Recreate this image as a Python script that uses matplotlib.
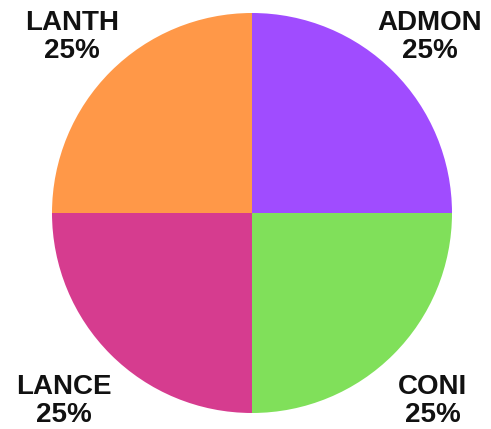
import numpy as np
import matplotlib
matplotlib.use("Agg")
import matplotlib.pyplot as plt

categories = ["ADMON", "CONI", "LANCE", "LANTH"]
values = [25, 25, 25, 25]
colors = ["#A04CFF", "#80E05A", "#D63C8F", "#FF9848"]

W, H = 491, 429
# label anchor positions (pixels from top-left)
label_pos = [(430, 37), (433, 401), (64, 401), (72, 37)]

fig = plt.figure(figsize=(W / 100, H / 100), dpi=100)
ax = fig.add_axes([0, 0, 1, 1])
cx, cy, R = 252, H - 213, 200
wedges, _ = ax.pie(values, colors=colors, startangle=90, counterclock=False,
                   center=(cx, cy), radius=R, wedgeprops=dict(linewidth=0))
ax.set_xlim(0, W)
ax.set_ylim(0, H)
ax.set_aspect("equal")
ax.axis("off")

total = sum(values)
for (px, py), name, v in zip(label_pos, categories, values):
    ax.text(px, H - py, f"{name}\n{v / total * 100:.0f}%", ha="center", va="center",
            fontsize=20, fontweight="bold", family="Liberation Sans",
            linespacing=1.15, color="#111111")

fig.savefig("out.png", dpi=100)
